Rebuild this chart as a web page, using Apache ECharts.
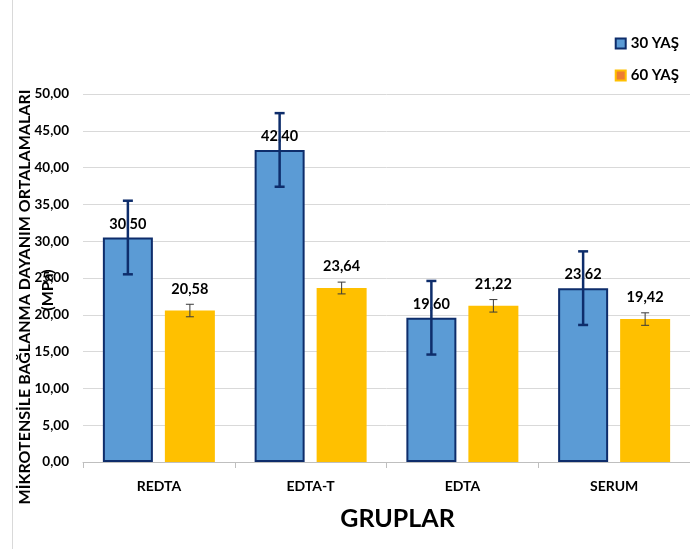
<!DOCTYPE html>
<html><head><meta charset="utf-8">
<script src="https://cdn.jsdelivr.net/npm/echarts@6/dist/echarts.min.js"></script>
<style>html,body{margin:0;padding:0;background:#fff}#c{width:690px;height:549px}</style>
</head><body><div id="c"></div>
<script>
var categories = ['REDTA', 'EDTA-T', 'EDTA', 'SERUM'];
var values30 = [30.50, 42.40, 19.60, 23.62];
var values60 = [20.58, 23.64, 21.22, 19.42];
var err30 = [5.0, 5.0, 5.0, 5.0];
var err60 = [0.85, 0.8, 0.85, 0.85];
var seriesNames = ['30 YAŞ', '60 YAŞ'];
var yTicks = { min: 0, max: 50, interval: 5 };

var FONT = 'Lato, "Open Sans", sans-serif';
function fmt(v) { return v.toFixed(2).replace('.', ','); }

function errSeries(vals, errs, offset, color, lw, cap) {
  return {
    type: 'custom', z: 10, silent: true,
    data: vals.map(function (v, i) { return [i, v - errs[i], v + errs[i]]; }),
    renderItem: function (params, api) {
      var lo = api.coord([api.value(0), api.value(1)]);
      var hi = api.coord([api.value(0), api.value(2)]);
      var x = lo[0] + offset;
      var st = { stroke: color, lineWidth: lw };
      return { type: 'group', children: [
        { type: 'line', shape: { x1: x, y1: lo[1], x2: x, y2: hi[1] }, style: st },
        { type: 'line', shape: { x1: x - cap, y1: lo[1], x2: x + cap, y2: lo[1] }, style: st },
        { type: 'line', shape: { x1: x - cap, y1: hi[1], x2: x + cap, y2: hi[1] }, style: st }
      ]};
    }
  };
}

var chart = echarts.init(document.getElementById('c'));
chart.setOption({
  animation: false,
  textStyle: { fontFamily: FONT },
  grid: { left: 83, right: 0, top: 94, bottom: 87 },
  legend: {
    orient: 'vertical', right: 6, top: 31, itemGap: 17,
    itemWidth: 10, itemHeight: 10, icon: 'rect',
    textStyle: { fontFamily: FONT, fontWeight: 'bold', fontSize: 15, color: '#000' },
    data: [
      { name: seriesNames[0], itemStyle: { color: '#5B9BD5', borderColor: '#0E2D6B', borderWidth: 2 } },
      { name: seriesNames[1], itemStyle: { color: '#ED7D31', borderColor: '#FFC000', borderWidth: 2 } }
    ]
  },
  xAxis: {
    type: 'category', data: categories,
    name: 'GRUPLAR', nameLocation: 'middle', nameGap: 44,
    nameTextStyle: { fontFamily: FONT, fontWeight: 'bold', fontSize: 25, color: '#000', padding: [0, 0, 0, 22] },
    axisLine: { lineStyle: { color: '#BFBFBF', width: 1 } },
    axisTick: { show: true, length: 6, lineStyle: { color: '#BFBFBF' } },
    axisLabel: { fontFamily: FONT, fontWeight: 'bold', fontSize: 14, color: '#000', margin: 17 }
  },
  yAxis: {
    type: 'value', min: yTicks.min, max: yTicks.max, interval: yTicks.interval,
    axisLine: { show: false }, axisTick: { show: false },
    splitLine: { lineStyle: { color: '#D9D9D9', width: 1 } },
    axisLabel: { fontFamily: FONT, fontWeight: 'bold', fontSize: 13.5, color: '#000', margin: 14, formatter: fmt }
  },
  graphic: [
    { type: 'line', shape: { x1: 12.5, y1: 0, x2: 12.5, y2: 549 }, style: { stroke: '#D9D9D9', lineWidth: 1 } },
    { type: 'text', x: 25, y: 297, rotation: Math.PI / 2,
      style: { text: 'MİKROTENSİLE BAĞLANMA DAYANIM ORTALAMALARI', font: 'bold 16px ' + FONT, fill: '#000', align: 'center', verticalAlign: 'middle' } },
    { type: 'text', x: 48, y: 290, rotation: Math.PI / 2,
      style: { text: '(MPa)', font: 'bold 16px ' + FONT, fill: '#000', align: 'center', verticalAlign: 'middle' } }
  ],
  series: [
    { name: seriesNames[0], type: 'bar', data: values30, barWidth: 50, barGap: '24%',
      itemStyle: { color: '#5B9BD5', borderColor: '#0E2D6B', borderWidth: 2 },
      label: { show: true, position: 'top', distance: 6, formatter: function (p) { return fmt(p.value); },
        fontFamily: FONT, fontWeight: 'bold', fontSize: 14.5, color: '#000' } },
    { name: seriesNames[1], type: 'bar', data: values60, barWidth: 50,
      itemStyle: { color: '#FFC000' },
      label: { show: true, position: 'top', distance: 14, formatter: function (p) { return fmt(p.value); },
        fontFamily: FONT, fontWeight: 'bold', fontSize: 14.5, color: '#000' } },
    errSeries(values30, err30, -31, '#0E2D6B', 2.5, 5),
    errSeries(values60, err60, 31, '#3A3A3A', 1, 4)
  ]
});
</script></body></html>
